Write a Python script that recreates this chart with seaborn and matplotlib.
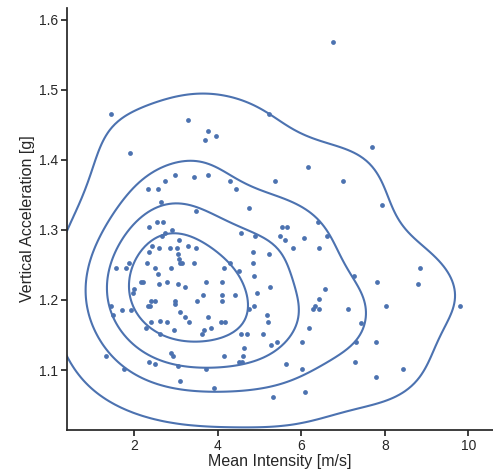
import numpy as np
import pandas as pd
import seaborn as sns
import matplotlib.pyplot as plt

# values
mean_intensity = [
    1.45, 3.30, 3.78, 3.71, 1.90, 2.99, 3.44, 3.78, 2.75, 2.33,
    2.57, 2.65, 3.49, 2.35, 2.54, 2.70, 2.91, 2.73, 2.67, 3.07,
    2.43, 2.59, 2.86, 3.02, 3.29, 3.49, 2.35, 3.06, 3.08, 3.10,
    3.15, 2.30, 3.44, 1.88, 1.56, 1.80, 2.49, 2.89, 2.57, 2.17,
    2.22, 2.59, 2.78, 3.05, 3.72, 3.23, 2.01, 1.98, 3.65, 2.41,
    2.49, 2.99, 2.99, 3.51, 2.33, 2.38, 1.45, 1.72, 1.92, 1.50,
    3.10, 3.23, 3.78, 2.41, 2.62, 2.78, 3.31, 2.28, 2.96, 2.62,
    3.68, 3.63, 1.32, 2.89, 2.94, 2.35, 2.49, 1.77, 3.05, 3.72,
    3.10, 3.95, 5.24, 6.16, 4.29, 5.37, 6.99, 4.44, 4.76, 5.55,
    5.67, 6.40, 6.62, 4.55, 4.90, 5.50, 5.61, 6.06, 5.80, 6.43,
    4.84, 5.24, 4.84, 4.29, 4.15, 4.52, 4.87, 4.11, 5.26, 6.57,
    4.95, 4.11, 4.42, 4.11, 6.43, 6.34, 6.29, 6.43, 7.11, 4.74,
    4.87, 5.19, 4.07, 4.18, 5.21, 3.84, 6.19, 4.55, 4.71, 5.08,
    6.01, 5.43, 5.27, 4.63, 4.15, 4.60, 4.52, 4.58, 5.64, 6.01,
    3.91, 5.32, 6.09, 6.75, 7.70, 7.94, 8.84, 7.26, 7.81, 8.79,
    8.02, 9.80, 7.44, 7.31, 7.78, 7.28, 7.78, 8.44,
]
vertical_acc = [
    1.465, 1.457, 1.441, 1.429, 1.410, 1.378, 1.375, 1.378, 1.370, 1.359,
    1.359, 1.340, 1.327, 1.304, 1.311, 1.311, 1.300, 1.295, 1.292, 1.285,
    1.277, 1.274, 1.274, 1.274, 1.277, 1.274, 1.269, 1.265, 1.258, 1.253,
    1.253, 1.253, 1.253, 1.253, 1.245, 1.245, 1.245, 1.245, 1.237, 1.226,
    1.226, 1.223, 1.226, 1.223, 1.226, 1.218, 1.215, 1.210, 1.207, 1.199,
    1.199, 1.199, 1.194, 1.199, 1.191, 1.191, 1.191, 1.186, 1.186, 1.179,
    1.183, 1.175, 1.175, 1.168, 1.170, 1.168, 1.168, 1.160, 1.157, 1.152,
    1.157, 1.152, 1.120, 1.125, 1.120, 1.112, 1.109, 1.101, 1.106, 1.101,
    1.085, 1.434, 1.465, 1.390, 1.370, 1.370, 1.370, 1.359, 1.332, 1.304,
    1.304, 1.311, 1.292, 1.296, 1.292, 1.292, 1.285, 1.288, 1.274, 1.274,
    1.269, 1.266, 1.253, 1.253, 1.245, 1.242, 1.234, 1.226, 1.218, 1.215,
    1.210, 1.207, 1.207, 1.199, 1.202, 1.191, 1.187, 1.187, 1.187, 1.187,
    1.191, 1.179, 1.168, 1.168, 1.168, 1.160, 1.160, 1.151, 1.151, 1.151,
    1.140, 1.140, 1.136, 1.132, 1.120, 1.120, 1.112, 1.112, 1.109, 1.101,
    1.074, 1.061, 1.069, 1.569, 1.418, 1.335, 1.245, 1.234, 1.226, 1.223,
    1.191, 1.191, 1.167, 1.140, 1.140, 1.112, 1.090, 1.101,
]

df = pd.DataFrame({'intensity': mean_intensity, 'acc': vertical_acc})

sns.set_theme(style='ticks')
plt.rcParams['font.family'] = ['Liberation Sans', 'DejaVu Sans']

fig = plt.figure(figsize=(4.93, 4.71), dpi=100)
ax = fig.add_axes([0.136, 0.087, 0.864, 0.896])

# density contours, smoothed a bit more than the default
sns.kdeplot(data=df, x='intensity', y='acc', bw_adjust=1.25,
            levels=[0.07, 0.2875, 0.525, 0.7625, 1.0],
            color='#4c72b0', linewidths=1.5, ax=ax)
sns.scatterplot(data=df, x='intensity', y='acc', color='#4c72b0', s=12,
                linewidth=0, ax=ax)

ax.set_xlim(0.397, 10.59)
ax.set_ylim(1.0143, 1.617)
ax.set_xlabel('Mean Intensity [m/s]', fontsize=11.5, labelpad=1)
ax.set_ylabel('Vertical Acceleration [g]', fontsize=11.5, labelpad=3)
ax.tick_params(labelsize=10, length=4.5, pad=2)
sns.despine(ax=ax)

fig.savefig('out.png', dpi=100)
